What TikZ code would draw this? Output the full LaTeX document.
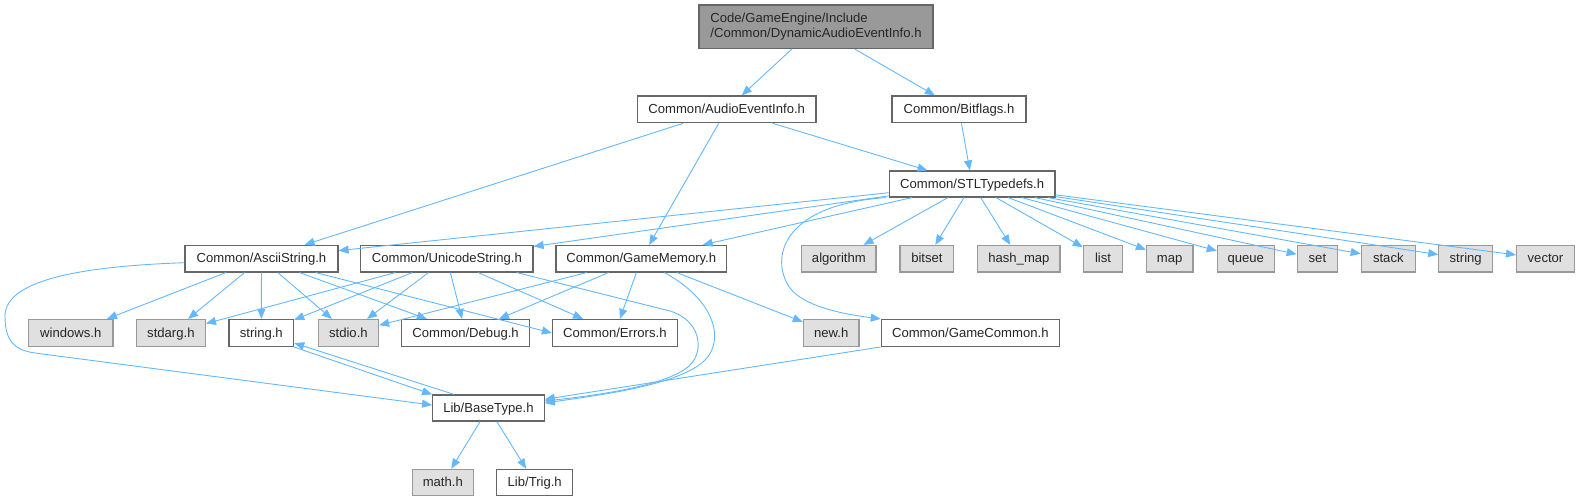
\documentclass[tikz,border=0pt]{standalone}
\usepackage{fontspec}
\setmainfont{Liberation Sans}
\usetikzlibrary{arrows.meta}
\definecolor{edgeblue}{HTML}{63B8FF}
\definecolor{bordergray}{HTML}{666666}
\definecolor{sysgray}{HTML}{E0E0E0}
\definecolor{sysborder}{HTML}{999999}
\definecolor{topfill}{HTML}{999999}
\begin{document}
\begin{tikzpicture}[x=1pt,y=-1pt,
  basebox/.style={draw=bordergray, fill=white, line width=1.2pt, inner sep=0pt,
    font=\fontsize{13.1}{15.5}\selectfont, text=black!85},
  box/.style={basebox, text height=9.5pt, text depth=1.5pt},
  sysbox/.style={box, draw=sysborder, fill=sysgray},
  topbox/.style={basebox, fill=topfill, align=left},
  dep/.style={draw=edgeblue, line width=0.9pt, -{Triangle[length=10pt,width=8pt]}}]
\useasboundingbox (0,0) rectangle (1580,501);
% row 0
\node[topbox, minimum width=234pt, minimum height=43.3pt] (top) at (816,26.7) {Code/GameEngine/Include\\/Common/DynamicAudioEventInfo.h};
% row 1
\node[box, minimum width=178.7pt, minimum height=26.7pt] (aei) at (726.7,109.3) {Common/AudioEventInfo.h};
\node[box, minimum width=134pt, minimum height=26.7pt] (bit) at (959,109.3) {Common/Bitflags.h};
% row 2
\node[box, minimum width=165.7pt, minimum height=26pt] (stl) at (972.2,184) {Common/STLTypedefs.h};
% row 3
\begin{scope}[every node/.append style={minimum height=26.5pt}]
\node[box, minimum width=153pt] (ascii) at (261.5,258.7) {Common/AsciiString.h};
\node[box, minimum width=172.3pt] (uni) at (446.9,258.7) {Common/UnicodeString.h};
\node[box, minimum width=170.7pt] (gm) at (641.3,258.7) {Common/GameMemory.h};
\node[sysbox, minimum width=74.3pt] (algorithm) at (838.9,258.7) {algorithm};
\node[sysbox, minimum width=53.7pt] (bitset) at (926.9,258.7) {bitset};
\node[sysbox, minimum width=82.3pt] (hashmap) at (1018.9,258.7) {hash\_map};
\node[sysbox, minimum width=39.2pt] (list) at (1103,258.7) {list};
\node[sysbox, minimum width=46.5pt] (map) at (1169.7,258.7) {map};
\node[sysbox, minimum width=56.9pt] (queue) at (1245.8,258.7) {queue};
\node[sysbox, minimum width=40.3pt] (set) at (1317.4,258.7) {set};
\node[sysbox, minimum width=54pt] (stack) at (1388.3,258.7) {stack};
\node[sysbox, minimum width=53.7pt] (string) at (1465.7,258.7) {string};
\node[sysbox, minimum width=57.8pt] (vector) at (1545.5,258.7) {vector};
\end{scope}
% row 4
\begin{scope}[every node/.append style={minimum height=27pt}]
\node[sysbox, minimum width=84.3pt] (windows) at (70.8,333) {windows.h};
\node[sysbox, minimum width=69pt] (stdarg) at (170.9,333) {stdarg.h};
\node[box, minimum width=64.7pt] (stringh) at (261.3,333) {string.h};
\node[sysbox, minimum width=60.3pt] (stdio) at (348.4,333) {stdio.h};
\node[box, minimum width=127.5pt] (debug) at (465.6,333) {Common/Debug.h};
\node[box, minimum width=124.8pt] (errors) at (614.9,333) {Common/Errors.h};
\node[sysbox, minimum width=55.7pt] (newh) at (831.2,333) {new.h};
\node[box, minimum width=178pt] (gc) at (970.3,333) {Common/GameCommon.h};
\end{scope}
% row 5
\node[box, minimum width=111.5pt, minimum height=26pt] (base) at (488.4,408) {Lib/BaseType.h};
% row 6
\node[sysbox, minimum width=61pt, minimum height=26.4pt] (math) at (442.8,482.5) {math.h};
\node[box, minimum width=76pt, minimum height=26.4pt] (trig) at (534.7,482.5) {Lib/Trig.h};

% edges
\draw[dep] (top) -- (aei);
\draw[dep] (top) -- (bit);
\draw[dep] (aei) -- (ascii);
\draw[dep] (aei) -- (gm);
\draw[dep] (aei) -- (stl);
\draw[dep] (bit) -- (stl);
\foreach \t in {ascii,uni,gm,algorithm,bitset,hashmap,list,map,queue,set,stack,string,vector}
  \draw[dep] (stl) -- (\t);
\draw[dep] ([xshift=-3pt]stl.south west) .. controls (780,205) and (770,260) .. (790,288)
   .. controls (805,308) and (850,315) .. (gc.north west);
\foreach \t in {windows,stdarg,stringh,stdio,debug}
  \draw[dep] (ascii) -- (\t);
\draw[dep] (ascii) -- (errors.west);
\draw[dep] ([yshift=-4pt]ascii.west) .. controls (90,266) and (5,278) .. (5,316)
   .. controls (5,342) and (15,350) .. (35,353) -- ([yshift=3pt]base.west);
\foreach \t in {stdarg,stringh,stdio,debug,errors}
  \draw[dep] (uni) -- (\t);
\draw[dep] ([xshift=-17pt]uni.south east) -- (670,311) .. controls (700,320) and (705,350) .. (690,365)
   .. controls (670,385) and (600,395) .. ([yshift=7pt]base.east);
\foreach \t in {stdio,debug,errors,newh}
  \draw[dep] (gm) -- (\t);
\draw[dep] ([xshift=23pt]gm.south) .. controls (715,300) and (725,340) .. (705,360)
   .. controls (680,385) and (600,395) .. ([yshift=5pt]base.east);
\draw[dep] (gc) -- (base);
\draw[dep] (stringh.south east) -- (base.north west);
\draw[dep] ([xshift=22pt]base.north west) -- ([yshift=4pt]stringh.south east);
\draw[dep] (base) -- (math);
\draw[dep] (base) -- (trig);
\end{tikzpicture}
\end{document}
